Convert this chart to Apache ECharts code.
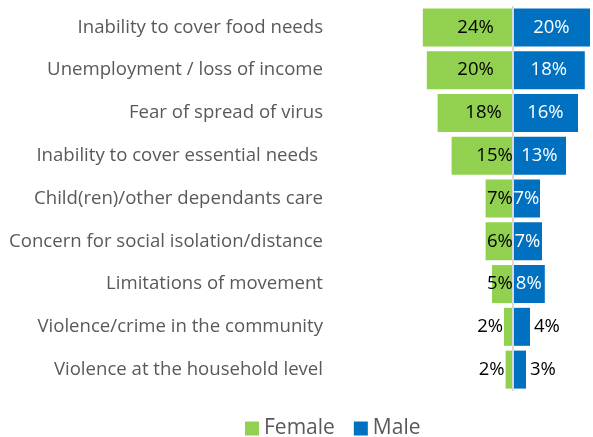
<!DOCTYPE html>
<html><head><meta charset="utf-8">
<script src="https://cdn.jsdelivr.net/npm/echarts@6/dist/echarts.min.js"></script>
<style>html,body{margin:0;padding:0;background:#fff}#c{width:593px;height:437px}</style>
</head><body><div id="c"></div>
<script>
const categories = [
  "Inability to cover food needs",
  "Unemployment / loss of income",
  "Fear of spread of virus",
  "Inability to cover essential needs ",
  "Child(ren)/other dependants care",
  "Concern for social isolation/distance",
  "Limitations of movement",
  "Violence/crime in the community",
  "Violence at the household level"
];
// bar lengths (percent)
const femaleValues = [22.5, 21.5, 18.8, 15.3, 6.8, 6.8, 5.2, 2.2, 1.8];
const maleValues   = [19.3, 18.0, 16.3, 13.3, 6.8, 7.3, 8.0, 4.3, 3.3];
// printed labels
const femaleLabels = ["24%", "20%", "18%", "15%", "7%", "6%", "5%", "2%", "2%"];
const maleLabels   = ["20%", "18%", "16%", "13%", "7%", "7%", "8%", "4%", "3%"];

const GREEN = '#92D050', BLUE = '#0070C0', GRAY = '#595959';
const FONT = '"Open Sans", "Noto Sans", sans-serif';

function femaleLabelFor(i) {
  const v = parseInt(femaleLabels[i]);
  if (v <= 2) return { position: 'left', distance: 1, color: '#000' };
  const d = v >= 20 ? 19 : (v >= 18 ? 11 : 0);
  return { position: 'insideRight', distance: d, color: '#000' };
}
function maleLabelFor(i) {
  const v = parseInt(maleLabels[i]);
  if (v <= 4) return { position: 'right', distance: 4, color: '#000' };
  return { position: 'inside', color: '#fff' };
}

const chart = echarts.init(document.getElementById('c'), null, { renderer: 'canvas' });
chart.setOption({
  animation: false,
  textStyle: { fontFamily: FONT },
  grid: { left: 330, right: 0, top: 6, bottom: 46, containLabel: false },
  legend: {
    data: ['Female', 'Male'],
    left: 240, top: 413,
    itemWidth: 14, itemHeight: 14, itemGap: 19,
    icon: 'rect',
    textStyle: { fontSize: 21, color: GRAY, fontFamily: FONT }
  },
  xAxis: {
    type: 'value', min: -45.7, max: 20.05, show: false
  },
  yAxis: {
    type: 'category', data: categories, inverse: true,
    axisLine: { show: false }, axisTick: { show: false },
    axisLabel: { color: GRAY, fontSize: 18.6, margin: 7, fontFamily: FONT }
  },
  series: [
    {
      name: 'Female', type: 'bar', stack: 'a', barWidth: 38,
      itemStyle: { color: GREEN },
      data: femaleValues.map((v, i) => ({
        value: -v,
        label: Object.assign({ show: true, fontSize: 18.5, fontFamily: FONT,
          formatter: () => femaleLabels[i] }, femaleLabelFor(i))
      })),
      markLine: {
        silent: true, symbol: 'none', label: { show: false },
        lineStyle: { color: '#d9d9d9', width: 2, type: 'solid' },
        data: [{ xAxis: 0 }]
      }
    },
    {
      name: 'Male', type: 'bar', stack: 'a', barWidth: 38,
      itemStyle: { color: BLUE },
      data: maleValues.map((v, i) => ({
        value: v,
        label: Object.assign({ show: true, fontSize: 18.5, fontFamily: FONT,
          formatter: () => maleLabels[i] }, maleLabelFor(i))
      }))
    }
  ]
});
</script></body></html>
